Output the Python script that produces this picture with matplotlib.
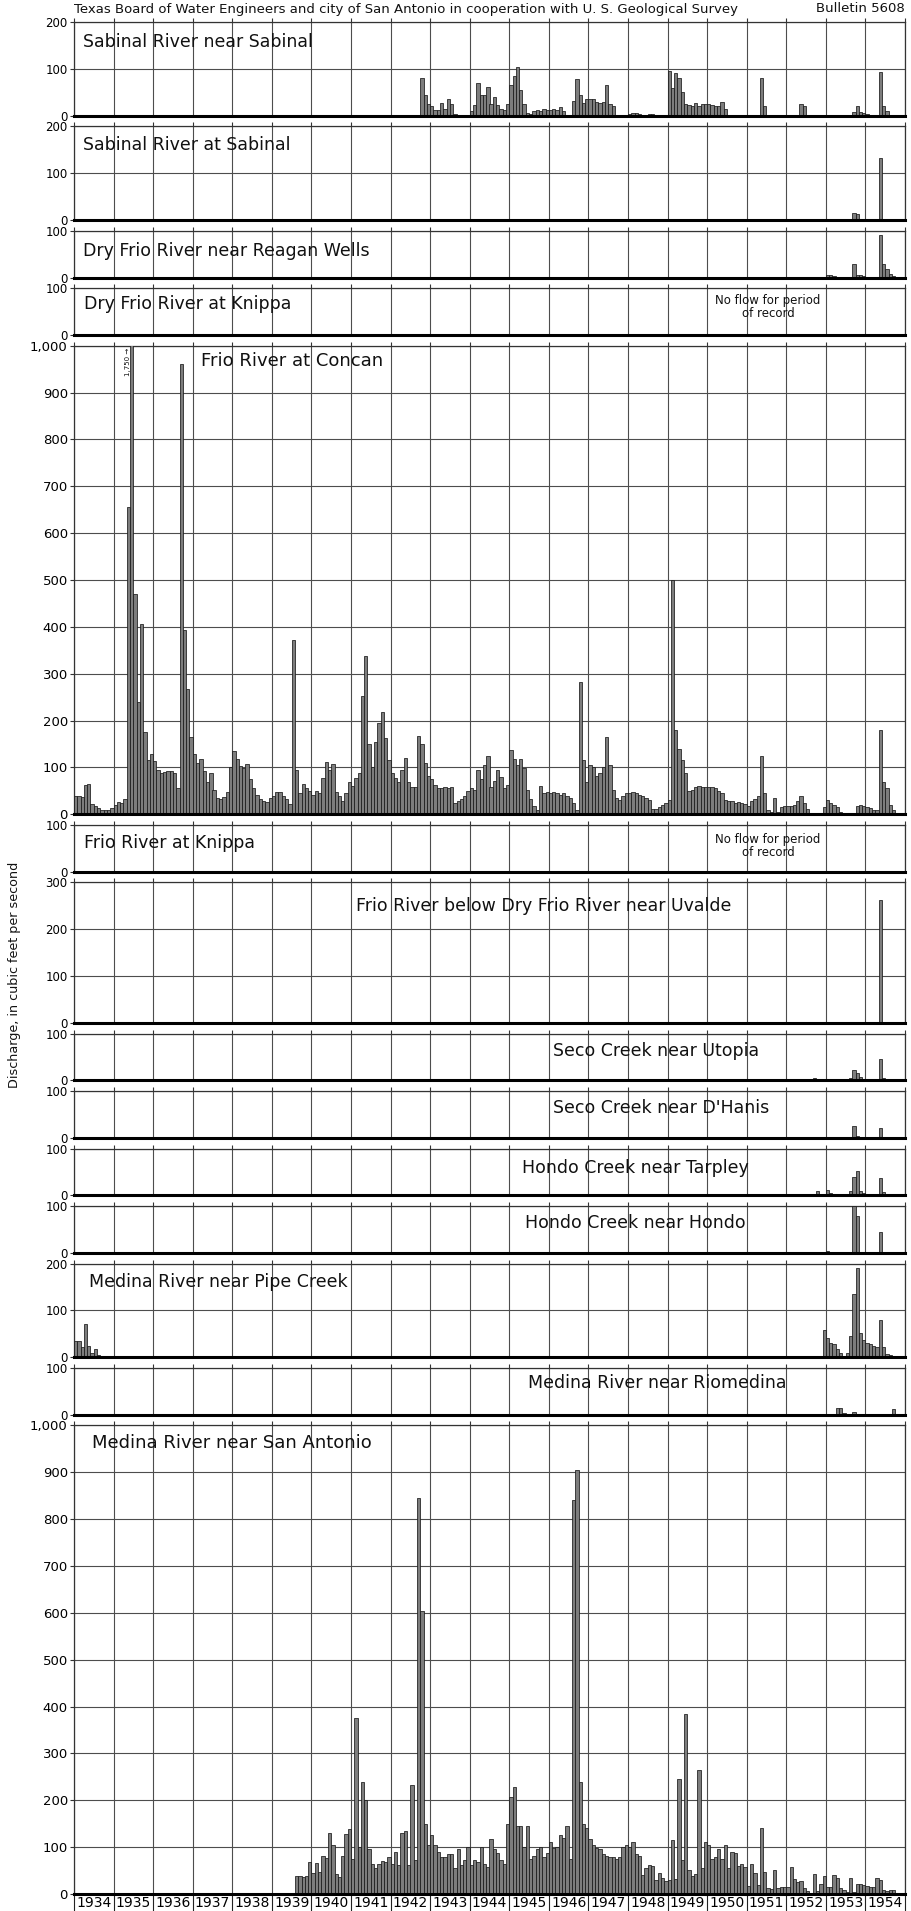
import numpy as np
import matplotlib
matplotlib.use("Agg")
import matplotlib.pyplot as plt
import matplotlib.transforms as mtransforms

# monthly mean discharge, cfs (12 values per year)
years = list(range(1934, 1955))

sabinal_near_sabinal = {
    1942: [0, 0, 0, 0, 0, 0, 0, 0, 0, 80, 45, 25],
    1943: [20, 12, 12, 28, 15, 35, 25, 3, 2, 2, 2, 2],
    1944: [10, 22, 70, 45, 45, 62, 25, 40, 22, 15, 12, 25],
    1945: [65, 85, 103, 55, 25, 5, 3, 10, 12, 10, 15, 12],
    1946: [12, 15, 12, 18, 10, 2, 2, 32, 78, 45, 28, 35],
    1947: [35, 35, 30, 28, 30, 65, 25, 20, 2, 2, 2, 2],
    1948: [3, 5, 5, 3, 2, 2, 4, 3, 2, 2, 2, 2],
    1949: [95, 60, 92, 80, 50, 25, 22, 20, 28, 20, 25, 25],
    1950: [25, 22, 20, 20, 30, 15, 2, 2, 2, 2, 2, 2],
    1951: [1, 1, 1, 2, 80, 20, 1, 1, 1, 1, 1, 1],
    1952: [1, 1, 1, 1, 25, 20, 1, 1, 1, 1, 1, 1],
    1953: [1, 2, 1, 1, 1, 1, 1, 1, 8, 20, 8, 5],
    1954: [3, 2, 2, 2, 93, 20, 10, 2, 0, 0, 0, 0],
}
sabinal_at_sabinal = {
    1953: [0, 0, 0, 0, 0, 0, 0, 0, 15, 12, 3, 3],
    1954: [0, 0, 0, 0, 132, 3, 0, 0, 0, 0, 0, 0],
}
dry_frio_reagan = {
    1953: [5, 5, 3, 0, 0, 0, 0, 0, 28, 5, 5, 4],
    1954: [2, 0, 0, 0, 90, 28, 18, 8, 3, 0, 0, 0],
}
dry_frio_knippa = {}
frio_concan = {
    1934: [40, 38, 37, 62, 65, 22, 18, 14, 10, 9, 10, 13],
    1935: [20, 26, 25, 32, 655, 1750, 470, 240, 405, 175, 115, 128],
    1936: [113, 95, 88, 90, 93, 93, 88, 57, 960, 393, 268, 165],
    1937: [128, 110, 118, 92, 68, 88, 52, 35, 32, 36, 47, 100],
    1938: [135, 118, 103, 98, 107, 75, 57, 42, 32, 28, 26, 34],
    1939: [40, 48, 48, 40, 32, 22, 372, 95, 45, 65, 55, 50],
    1940: [42, 50, 45, 78, 112, 95, 108, 48, 38, 28, 45, 68],
    1941: [60, 78, 88, 252, 338, 150, 100, 155, 195, 218, 162, 115],
    1942: [88, 78, 68, 95, 120, 68, 58, 58, 168, 150, 110, 82],
    1943: [75, 62, 57, 56, 58, 55, 58, 25, 28, 32, 38, 50],
    1944: [55, 52, 95, 75, 105, 125, 58, 72, 95, 80, 55, 62],
    1945: [137, 118, 105, 118, 98, 52, 32, 18, 8, 60, 45, 48],
    1946: [45, 48, 45, 42, 45, 40, 35, 25, 10, 282, 115, 68],
    1947: [105, 100, 82, 88, 100, 165, 105, 52, 35, 30, 40, 45],
    1948: [45, 48, 45, 42, 40, 35, 30, 12, 12, 15, 20, 25],
    1949: [30, 500, 180, 140, 115, 88, 50, 52, 58, 60, 58, 58],
    1950: [58, 58, 55, 50, 45, 30, 28, 28, 25, 27, 25, 22],
    1951: [18, 28, 32, 40, 125, 45, 10, 5, 35, 5, 15, 18],
    1952: [18, 18, 20, 28, 40, 25, 12, 1, 1, 1, 1, 15],
    1953: [30, 25, 20, 15, 5, 1, 1, 1, 2, 18, 20, 18],
    1954: [15, 14, 10, 8, 180, 68, 55, 20, 8, 2, 1, 1],
}
frio_knippa = {}
frio_uvalde = {
    1954: [0, 0, 0, 0, 262, 0, 0, 0, 0, 0, 0, 0],
}
seco_utopia = {
    1952: [0, 0, 0, 0, 0, 0, 0, 0, 5, 0, 0, 0],
    1953: [3, 0, 0, 0, 0, 0, 0, 5, 22, 15, 8, 0],
    1954: [0, 0, 0, 3, 45, 5, 0, 0, 0, 0, 0, 0],
}
seco_dhanis = {
    1953: [0, 0, 0, 0, 0, 0, 0, 0, 25, 5, 0, 0],
    1954: [0, 0, 0, 0, 22, 0, 0, 0, 0, 0, 0, 0],
}
hondo_tarpley = {
    1952: [0, 0, 0, 0, 0, 0, 0, 0, 0, 10, 0, 0],
    1953: [12, 5, 3, 0, 0, 0, 0, 10, 40, 52, 10, 5],
    1954: [3, 0, 3, 3, 38, 8, 3, 0, 0, 0, 0, 0],
}
hondo_hondo = {
    1952: [0, 0, 0, 0, 0, 0, 0, 0, 0, 3, 0, 0],
    1953: [4, 0, 0, 0, 0, 0, 0, 3, 100, 78, 0, 0],
    1954: [0, 0, 0, 0, 45, 0, 0, 0, 0, 0, 0, 0],
}
medina_pipe_creek = {
    1934: [35, 35, 22, 72, 25, 10, 18, 5, 3, 0, 0, 0],
    1952: [0, 0, 0, 0, 0, 0, 0, 0, 0, 0, 0, 58],
    1953: [42, 30, 28, 18, 10, 2, 10, 45, 135, 190, 52, 38],
    1954: [30, 28, 25, 22, 80, 22, 8, 5, 3, 3, 2, 2],
}
medina_riomedina = {
    1953: [0, 0, 0, 15, 15, 3, 0, 0, 5, 2, 0, 0],
    1954: [0, 0, 0, 0, 0, 0, 0, 0, 12, 0, 0, 0],
}
medina_san_antonio = {
    1939: [0, 0, 0, 0, 0, 0, 0, 38, 38, 37, 38, 68],
    1940: [45, 67, 48, 82, 77, 130, 105, 42, 37, 82, 128, 138],
    1941: [75, 375, 100, 238, 200, 95, 65, 55, 65, 70, 68, 78],
    1942: [65, 90, 62, 130, 135, 62, 232, 72, 845, 605, 150, 105],
    1943: [125, 105, 90, 80, 78, 85, 85, 55, 95, 62, 72, 100],
    1944: [62, 72, 68, 100, 65, 58, 118, 95, 88, 72, 65, 150],
    1945: [208, 228, 145, 145, 100, 145, 75, 82, 95, 100, 78, 88],
    1946: [110, 98, 100, 125, 120, 145, 75, 840, 905, 240, 150, 140],
    1947: [118, 105, 98, 95, 85, 82, 78, 80, 75, 78, 100, 105],
    1948: [100, 110, 85, 82, 40, 55, 62, 60, 30, 45, 35, 28],
    1949: [30, 115, 32, 245, 72, 385, 52, 38, 42, 265, 55, 110],
    1950: [105, 75, 80, 95, 75, 105, 55, 90, 88, 60, 65, 58],
    1951: [18, 65, 45, 20, 140, 48, 12, 10, 52, 12, 14, 15],
    1952: [15, 58, 32, 25, 28, 12, 6, 3, 42, 6, 22, 38],
    1953: [15, 15, 40, 35, 12, 8, 5, 35, 5, 22, 22, 20],
    1954: [18, 15, 15, 35, 30, 8, 6, 8, 8, 0, 0, 0],
}

names = ["Sabinal River near Sabinal", "Sabinal River at Sabinal",
         "Dry Frio River near Reagan Wells", "Dry Frio River at Knippa",
         "Frio River at Concan", "Frio River at Knippa",
         "Frio River below Dry Frio River near Uvalde",
         "Seco Creek near Utopia", "Seco Creek near D'Hanis",
         "Hondo Creek near Tarpley", "Hondo Creek near Hondo",
         "Medina River near Pipe Creek", "Medina River near Riomedina",
         "Medina River near San Antonio"]
series = [sabinal_near_sabinal, sabinal_at_sabinal, dry_frio_reagan,
          dry_frio_knippa, frio_concan, frio_knippa, frio_uvalde,
          seco_utopia, seco_dhanis, hondo_tarpley, hondo_hondo,
          medina_pipe_creek, medina_riomedina, medina_san_antonio]
ymax = [200, 200, 100, 100, 1000, 100, 300, 100, 100, 100, 100, 200, 100, 1000]

# title positions in pixels (left x, centre y)
title_pos = [(83, 42), (83, 145), (83, 251), (84, 304), (201, 361),
             (84, 843), (356, 906), (553, 1051), (553, 1108), (522, 1168),
             (525, 1223), (89, 1282), (528, 1383), (92, 1443)]
no_flow = {3: 307, 5: 846}

W, H = 912, 1911
fig = plt.figure(figsize=(W / 100, H / 100), dpi=100)
fig.patch.set_facecolor("white")

left, right = 74, 905
top0, bottom_last = 22, 1894
gap = 10.65
scale = (bottom_last - top0 - gap * (len(ymax) - 1)) / sum(ymax)


def monthly(data):
    xs, vs = [], []
    for yr, vals in data.items():
        for m, val in enumerate(vals):
            if val > 0:
                xs.append(yr - years[0] + (m + 0.5) / 12)
                vs.append(val)
    return xs, vs


top = top0
axes = []
for i, (name, data, ym) in enumerate(zip(names, series, ymax)):
    h = ym * scale
    ax = fig.add_axes([left / W, 1 - (top + h) / H, (right - left) / W, h / H])
    axes.append(ax)
    xs, vs = monthly(data)
    ax.bar(xs, vs, width=1 / 12, color="#7d7d7d", edgecolor="#1a1a1a",
           linewidth=0.55, zorder=3)
    ax.set_xlim(0, len(years))
    ax.set_ylim(0, ym)
    ax.set_xticks(np.arange(0, len(years) + 1))
    ax.set_yticks(np.arange(0, ym + 1, 100))
    big = ym >= 1000
    ax.set_yticklabels([f"{v:,}" for v in range(0, ym + 1, 100)],
                       fontsize=9.5 if big else 8.5)
    ax.tick_params(axis="x", which="major", top=True, bottom=False,
                   labelbottom=False, direction="out", length=3,
                   width=0.8, color="#333")
    ax.tick_params(axis="y", direction="out", length=3, width=0.8, pad=1.5,
                   color="#333")
    ax.grid(True, which="major", color="#4d4d4d", linewidth=0.8, zorder=1)
    for s in ("left", "right", "top"):
        ax.spines[s].set_linewidth(0.9)
        ax.spines[s].set_color("#333")
    ax.spines["bottom"].set_linewidth(2.2)
    ax.spines["bottom"].set_color("black")
    ax.spines["bottom"].set_zorder(5)

    tx, ty = title_pos[i]
    fs = 13 if i in (4, 13) else 12.5
    fig.text(tx / W, 1 - ty / H, name, fontsize=fs, ha="left", va="center",
             color="#111")
    if i in no_flow:
        fig.text(768 / W, 1 - no_flow[i] / H, "No flow for period\nof record",
                 fontsize=8.5, ha="center", va="center", linespacing=1.05,
                 color="#111")
    top += h + gap

# off-scale peak at Concan
concan = axes[4]
concan.text(1.36, 995, "1,750 \u2192", rotation=90, fontsize=5, ha="center",
            va="top", zorder=6, color="#111")

# year labels under the last panel
last = axes[-1]
last.set_xticks(np.arange(len(years)) + 0.5, minor=True)
last.set_xticklabels([str(y) for y in years], minor=True, fontsize=10)
last.tick_params(axis="x", which="minor", bottom=True, labelbottom=True,
                 length=0, pad=1.5)
trans = mtransforms.blended_transform_factory(last.transData, last.transAxes)
sep = 17 / (470)
for k in range(len(years) + 1):
    last.plot([k, k], [0, -sep], transform=trans, color="#222", lw=0.8,
              clip_on=False)

fig.text(15 / W, 1 - 975 / H, "Discharge, in cubic feet per second",
         rotation=90, fontsize=9.2, ha="center", va="center", color="#111")
fig.text(left / W, 1 - 9 / H,
         "Texas Board of Water Engineers and city of San Antonio in cooperation with U. S. Geological Survey",
         fontsize=9.5, ha="left", va="center", color="#111")
fig.text(right / W, 1 - 9 / H, "Bulletin 5608", fontsize=9.5, ha="right",
         va="center", color="#111")

fig.savefig("out.png", dpi=100, facecolor="white")
